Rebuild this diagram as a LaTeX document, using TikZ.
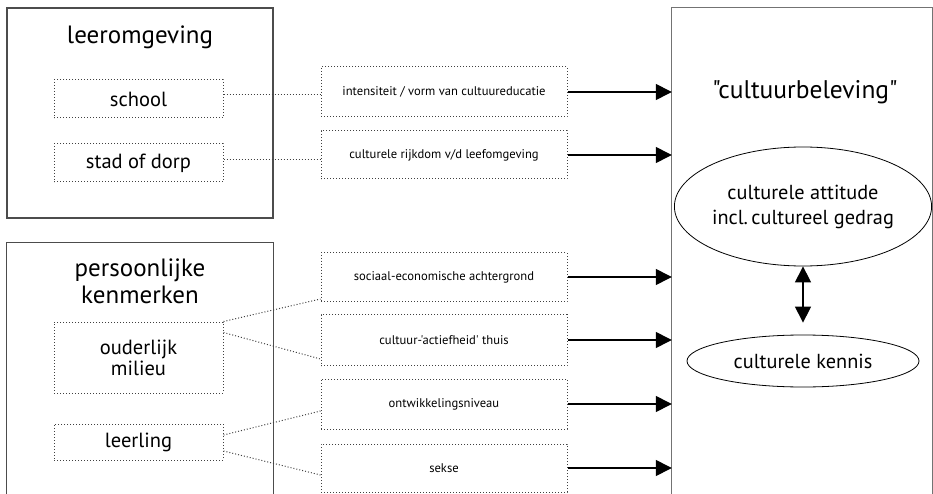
\documentclass[tikz,border=0pt]{standalone}
\usepackage{fontspec}
\setmainfont{PT Sans}[Ligatures=TeXOff]
\usetikzlibrary{arrows.meta,shapes.geometric,calc}
\begin{document}
\begin{tikzpicture}[x=1pt,y=-1pt,
  bigline/.style={line width=1.3pt,draw=black!70},
  dotbox/.style={draw=black!75,line width=1pt,dotted,rectangle,inner sep=0pt,align=center},
  lbox/.style={dotbox,minimum width=169pt,font=\fontsize{20.5}{22}\selectfont},
  mbox/.style={dotbox,minimum width=246pt,font=\fontsize{12.6}{15}\selectfont},
  dotcon/.style={draw=black!75,line width=1pt,dotted},
  arr/.style={line width=1.3pt,-{Triangle[length=16pt,width=16pt]}},
  ell/.style={draw,ellipse,line width=0.8pt,inner sep=0pt,align=center,font=\fontsize{20.3}{25}\selectfont},
  ttl/.style={align=center,font=\fontsize{25}{27}\selectfont}]
\useasboundingbox (0,0) rectangle (933,494);
% big boxes
\node[bigline,draw,rectangle,minimum width=266pt,minimum height=210pt,inner sep=0pt] (lo) at (140,113) {};
\node[ttl] (lot) at (140,37) {leeromgeving};
\node[rectangle,minimum width=266pt,minimum height=260pt,inner sep=0pt] (pk) at (140,373) {};
\draw[bigline] (pk.south west) -- (pk.north west) -- (pk.north east) -- (pk.south east);
\node[ttl] (pkt) at (140,281.5) {persoonlijke\\kenmerken};
\node[rectangle,minimum width=260pt,minimum height=500pt,inner sep=0pt] (cb) at (802,258) {};
\draw[bigline,draw=black!55] (cb.south west) -- (cb.north west) -- (cb.north east) -- (cb.south east);
\node[ttl,font=\fontsize{25.5}{27}\selectfont] (cbt) at (805,92) {"cultuurbeleving"};
% left boxes
\node[lbox,minimum height=38pt] (sc) at (138.5,99) {school};
\node[lbox,minimum height=38pt] (sd) at (138.5,163) {stad of dorp};
\node[lbox,minimum height=71pt,font=\fontsize{20.5}{21}\selectfont] (om) at (138.5,357.5) {ouderlijk\\milieu};
\node[lbox,minimum height=36pt] (ll) at (138.5,442) {leerling};
% middle boxes
\node[mbox,minimum height=50pt] (b1) at (444,92) {intensiteit / vorm van cultuureducatie};
\node[mbox,minimum height=48pt] (b2) at (444,155) {culturele rijkdom v/d leefomgeving};
\node[mbox,minimum height=49pt] (b3) at (444,277) {sociaal-economische achtergrond};
\node[mbox,minimum height=51pt] (b4) at (444,340) {cultuur-'actiefheid' thuis};
\node[mbox,minimum height=50pt] (b5) at (444,404) {ontwikkelingsniveau};
\node[mbox,minimum height=48pt] (b6) at (444,468) {sekse};
% ellipses
\node[ell,minimum width=232pt,minimum height=119pt] (e1) at (803,206.5) {culturele attitude\\incl.\,cultureel gedrag};
\node[ell,minimum width=232pt,minimum height=52pt] (e2) at (803,361) {culturele kennis};
% dotted connectors
\draw[dotcon] ([yshift=4pt]sc.east) -- ([yshift=4pt]sc.east -| b1.west);
\draw[dotcon] ([yshift=3pt]sd.east) -- ([yshift=3pt]sd.east -| b2.west);
\draw[dotcon] (om.north east) -- ([yshift=3pt]b3.south west);
\draw[dotcon] ([yshift=-11pt]om.north east) -- ([yshift=7pt]b4.south west);
\draw[dotcon] ([yshift=7pt]ll.east) -- ([yshift=-7pt]b5.west);
\draw[dotcon] ([yshift=-9pt]ll.east) -- ([yshift=-7pt]b6.west);
% arrows
\foreach \b in {b1,b2,b3,b4,b5,b6}{
  \draw[arr] (\b.east) -- (\b.east -| cb.west);
}
\draw[line width=1.3pt,{Triangle[length=16pt,width=16pt]}-{Triangle[length=16pt,width=16pt]},shorten >=12pt] (e1.south) -- (e2.north);
\end{tikzpicture}
\end{document}
